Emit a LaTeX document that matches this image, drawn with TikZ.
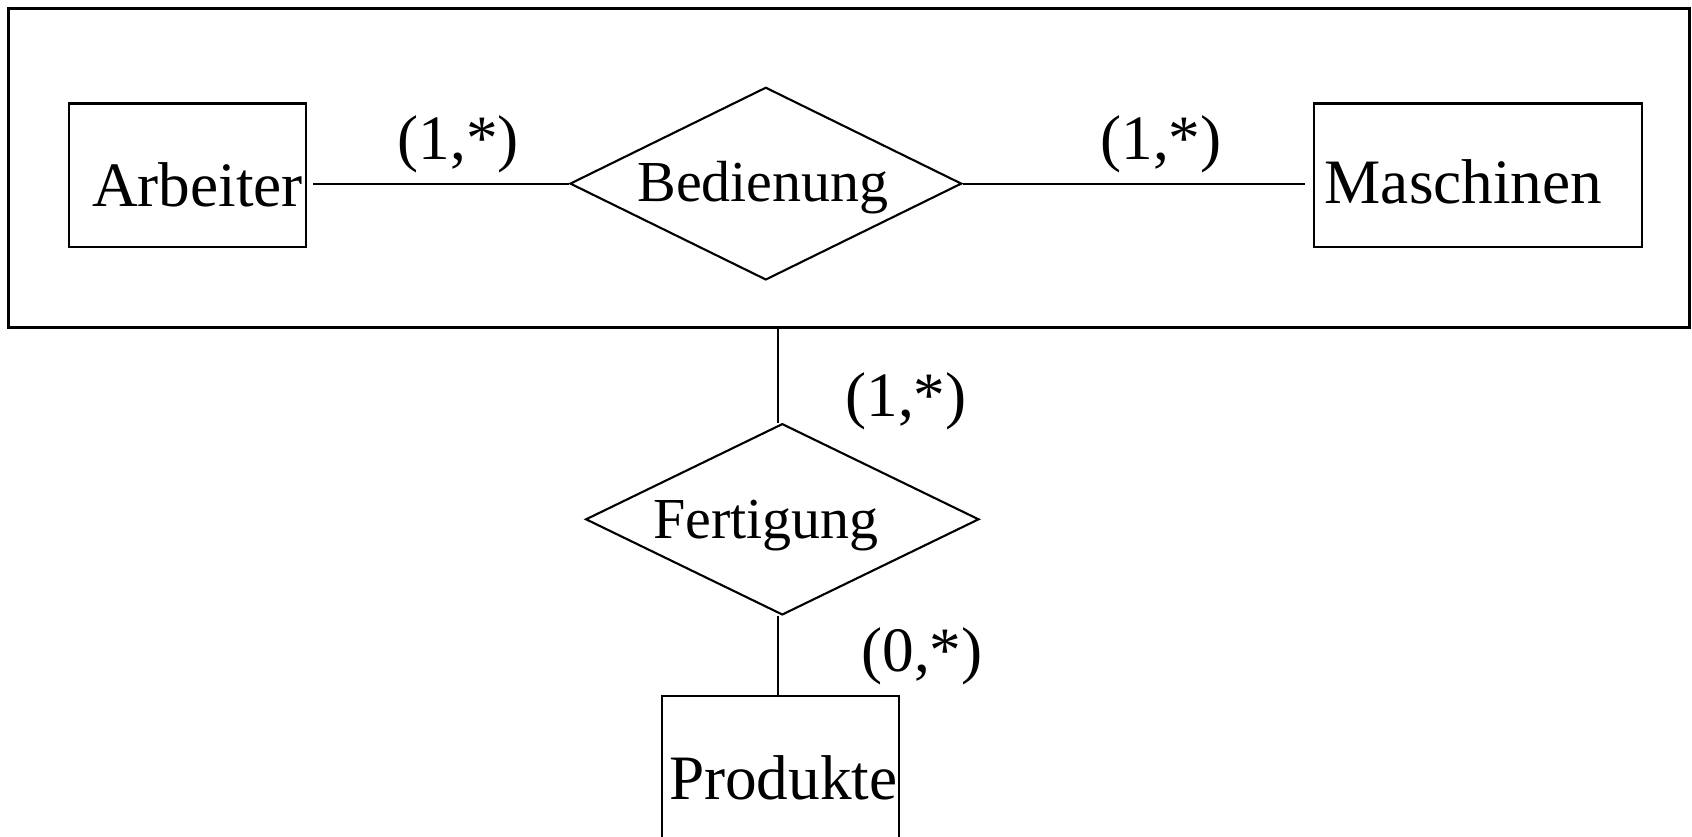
\documentclass[tikz,border=0pt]{standalone}
\usepackage{fontspec}
\setmainfont{Liberation Serif}
\usetikzlibrary{shapes.geometric}

\begin{document}
\begin{tikzpicture}[
    entity/.style={draw,rectangle,line width=0.6pt,inner sep=0pt},
    relation/.style={draw,diamond,aspect=2,line width=0.6pt,inner sep=0pt},
    bigtext/.style={anchor=base,inner sep=0pt,font=\fontsize{18}{18}\selectfont},
    reltext/.style={anchor=base,inner sep=0pt,font=\fontsize{16.5}{16.5}\selectfont},
    link/.style={line width=0.55pt}
  ]
  \useasboundingbox (0,0) rectangle (16.92,8.36);

  % aggregation box round Bedienung
  \node[entity,line width=0.7pt,minimum width=16.81cm,minimum height=3.19cm] (agg) at (8.49,6.68) {};

  \node[entity,minimum width=2.37cm,minimum height=1.435cm] (arb) at (1.875,6.608) {};
  \node[bigtext] (arbname) at (1.975,6.293) {Arbeiter};

  \node[relation,minimum width=3.917cm,minimum height=1.927cm] (bed) at (7.658,6.524) {};
  \node[reltext] (bedname) at (7.63,6.343) {Bedienung};

  \node[entity,minimum width=3.275cm,minimum height=1.435cm] (mas) at (14.778,6.608) {};
  \node[bigtext] (masname) at (14.635,6.327) {Maschinen};

  \draw[link] ([xshift=0.06cm]arb.east |- bed.west) -- (bed.west);
  \draw[link] (bed.east) -- ([xshift=-0.08cm]mas.west |- bed.east);
  \node[bigtext] (cardarb) at (4.583,6.77) {(1,*)};
  \node[bigtext] (cardmas) at (11.61,6.77) {(1,*)};

  % Fertigung below
  \node[relation,minimum width=3.933cm,minimum height=1.913cm] (fer) at (7.823,3.167) {};
  \node[reltext] (fername) at (7.66,2.98) {Fertigung};

  \node[entity,minimum width=2.373cm,minimum height=1.553cm] (pro) at (7.804,0.627) {};
  \node[bigtext] (proname) at (7.833,0.37) {Produkte};

  \draw[link] ([xshift=-0.045cm]fer.north |- agg.south) -- ([xshift=-0.045cm]fer.north);
  \draw[link] ([xshift=-0.045cm]fer.south) -- ([xshift=-0.045cm]fer.south |- pro.north);
  \node[bigtext] (cardagg) at (9.06,4.20) {(1,*)};
  \node[bigtext] (cardpro) at (9.22,1.65) {(0,*)};
\end{tikzpicture}
\end{document}
